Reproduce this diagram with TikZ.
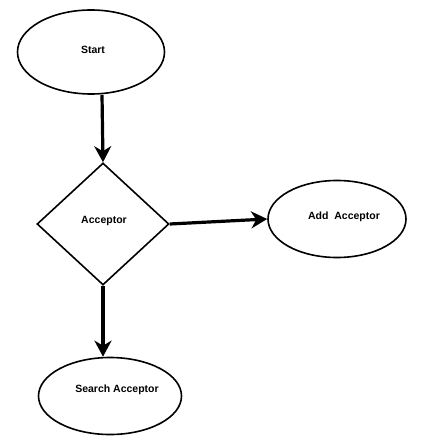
\documentclass[tikz,border=0pt]{standalone}
\usepackage{fontspec}
\setmainfont{Liberation Sans}
\usetikzlibrary{shapes.geometric,arrows.meta}
\begin{document}
\begin{tikzpicture}[x=1pt,y=-1pt,
  shapebox/.style={draw=black,line width=1.6pt,inner sep=0pt},
  oval/.style={shapebox,ellipse},
  lbl/.style={font=\bfseries\fontsize{10.5}{12}\selectfont,inner sep=0pt},
  flow/.style={line width=3.2pt,-{Stealth[length=16pt,width=17pt,inset=5pt]}}]
\useasboundingbox (0,0) rectangle (423,446);
\node[oval,minimum width=147pt,minimum height=84pt] (start) at (91,52) {};
\node[lbl] (startl) at (93,50) {Start};
\node[shapebox,diamond,minimum width=132pt,minimum height=122pt] (acc) at (103,224) {};
\node[lbl] (accl) at (104,221) {Acceptor};
\node[oval,minimum width=138pt,minimum height=77pt] (add) at (337,219) {};
\node[lbl] (addl) at (344,217) {Add\ \ Acceptor};
\node[oval,minimum width=143pt,minimum height=77pt] (search) at (110,396) {};
\node[lbl] (searchl) at (117,390) {Search Acceptor};
\draw[flow] (start.south -| 102,0) -- (acc.north);
\draw[flow] (acc.east) -- (add.west);
\draw[flow] (acc.south) -- (acc.south |- search.north);
\end{tikzpicture}
\end{document}
